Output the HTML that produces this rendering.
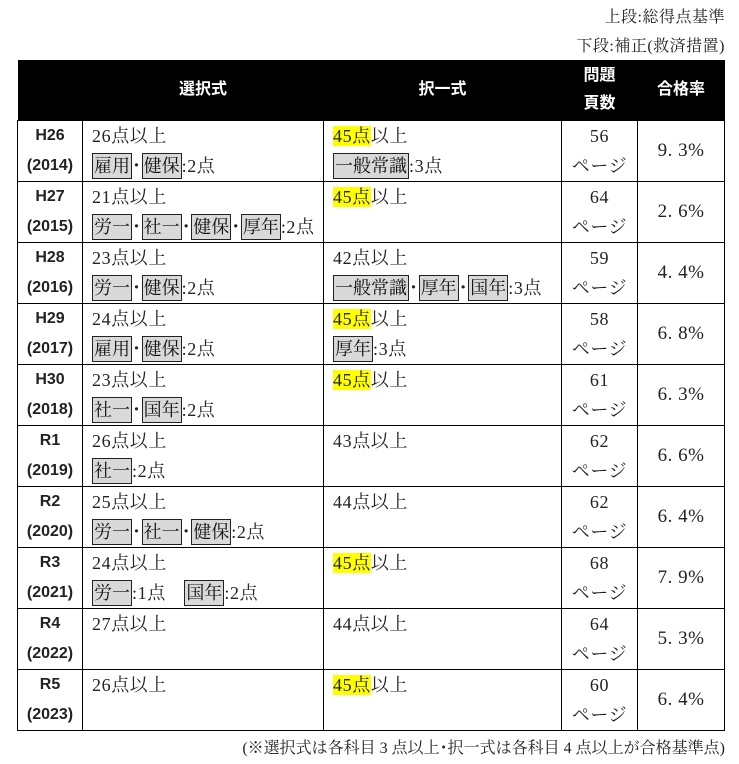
<!DOCTYPE html>
<html><head><meta charset="utf-8"><style>
body{margin:0;width:739px;height:764px;background:#fff;position:relative;overflow:hidden;font-family:"Liberation Serif","Noto Serif CJK JP",serif;color:#222}
.note{position:absolute;right:14px;font-size:16px;white-space:nowrap;letter-spacing:0.5px}
table{position:absolute;left:17px;top:60px;border-collapse:collapse;table-layout:fixed}
th{background:#000;color:#fff;font-family:"Liberation Sans","Noto Sans CJK JP",sans-serif;font-weight:bold;font-size:16px;height:60px;padding:0;line-height:28px}
td{border:1.5px solid #000;height:59px;padding:0;vertical-align:top;font-size:18px}
td.y{text-align:center;font-family:"Liberation Sans","Noto Sans CJK JP",sans-serif;font-weight:bold;font-size:16px;line-height:30px}
td.c{padding-left:9px;line-height:30px;white-space:nowrap;letter-spacing:0.6px}
td.p{text-align:center;line-height:30px;letter-spacing:0.6px}
td.r{text-align:center;vertical-align:middle;font-size:19px;letter-spacing:0.5px}
.t{background:#d9d9d9;border:1.5px solid #222;padding:2px 1px;color:#111;letter-spacing:0}
.h{background:#ffff00}
.ft{position:absolute;right:14px;top:735px;font-size:16px;white-space:nowrap}
</style></head><body>
<div class="note" style="top:4px">上段:総得点基準</div>
<div class="note" style="top:33px">下段:補正(救済措置)</div>
<table>
<colgroup><col style="width:65px"><col style="width:241px"><col style="width:238px"><col style="width:76px"><col style="width:87px"></colgroup>
<tr><th></th><th>選択式</th><th>択一式</th><th>問題<br>頁数</th><th>合格率</th></tr>
<tr><td class="y">H26<br>(2014)</td><td class="c">26点以上<br><span class="t">雇用</span>･<span class="t">健保</span>:2点</td><td class="c"><span class="h">45点</span>以上<br><span class="t">一般常識</span>:3点</td><td class="p">56<br>ページ</td><td class="r">9. 3%</td></tr>
<tr><td class="y">H27<br>(2015)</td><td class="c">21点以上<br><span class="t">労一</span>･<span class="t">社一</span>･<span class="t">健保</span>･<span class="t">厚年</span>:2点</td><td class="c"><span class="h">45点</span>以上</td><td class="p">64<br>ページ</td><td class="r">2. 6%</td></tr>
<tr><td class="y">H28<br>(2016)</td><td class="c">23点以上<br><span class="t">労一</span>･<span class="t">健保</span>:2点</td><td class="c">42点以上<br><span class="t">一般常識</span>･<span class="t">厚年</span>･<span class="t">国年</span>:3点</td><td class="p">59<br>ページ</td><td class="r">4. 4%</td></tr>
<tr><td class="y">H29<br>(2017)</td><td class="c">24点以上<br><span class="t">雇用</span>･<span class="t">健保</span>:2点</td><td class="c"><span class="h">45点</span>以上<br><span class="t">厚年</span>:3点</td><td class="p">58<br>ページ</td><td class="r">6. 8%</td></tr>
<tr><td class="y">H30<br>(2018)</td><td class="c">23点以上<br><span class="t">社一</span>･<span class="t">国年</span>:2点</td><td class="c"><span class="h">45点</span>以上</td><td class="p">61<br>ページ</td><td class="r">6. 3%</td></tr>
<tr><td class="y">R1<br>(2019)</td><td class="c">26点以上<br><span class="t">社一</span>:2点</td><td class="c">43点以上</td><td class="p">62<br>ページ</td><td class="r">6. 6%</td></tr>
<tr><td class="y">R2<br>(2020)</td><td class="c">25点以上<br><span class="t">労一</span>･<span class="t">社一</span>･<span class="t">健保</span>:2点</td><td class="c">44点以上</td><td class="p">62<br>ページ</td><td class="r">6. 4%</td></tr>
<tr><td class="y">R3<br>(2021)</td><td class="c">24点以上<br><span class="t">労一</span>:1点　<span class="t">国年</span>:2点</td><td class="c"><span class="h">45点</span>以上</td><td class="p">68<br>ページ</td><td class="r">7. 9%</td></tr>
<tr><td class="y">R4<br>(2022)</td><td class="c">27点以上</td><td class="c">44点以上</td><td class="p">64<br>ページ</td><td class="r">5. 3%</td></tr>
<tr><td class="y">R5<br>(2023)</td><td class="c">26点以上</td><td class="c"><span class="h">45点</span>以上</td><td class="p">60<br>ページ</td><td class="r">6. 4%</td></tr>
</table>
<div class="ft">(※選択式は各科目 3 点以上･択一式は各科目 4 点以上が合格基準点)</div>
</body></html>
